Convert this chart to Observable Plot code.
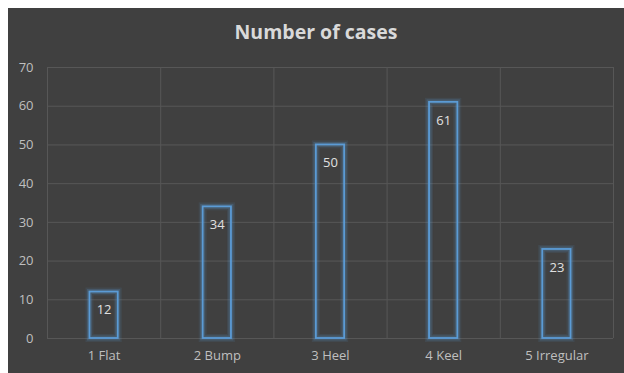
<!DOCTYPE html>
<html>
<head>
<meta charset="utf-8">
<script src="https://cdn.jsdelivr.net/npm/d3@7"></script>
<script src="https://cdn.jsdelivr.net/npm/@observablehq/plot@0.6"></script>
<style>
  html, body { margin: 0; padding: 0; background: #ffffff; }
  #chart {
    position: absolute; left: 8px; top: 8px;
    width: 616px; height: 365px;
    background: #404040;
    font-family: "Open Sans", sans-serif;
  }
  #title {
    height: 36px; padding-top: 6px; line-height: 36px;
    text-align: center; color: #d9d9d9;
    font-size: 19.5px; font-weight: 700;
  }
  #chart svg { display: block; }
</style>
</head>
<body>
<div id="chart"><div id="title">Number of cases</div></div>
<script>
const categories = ["1 Flat", "2 Bump", "3 Heel", "4 Keel", "5 Irregular"];
const cases = [12, 34, 50, 61, 23];
const yTicks = [0, 10, 20, 30, 40, 50, 60, 70];

const data = categories.map((c, i) => ({category: c, pos: i + 1, value: cases[i]}));
const boundaries = d3.range(0, categories.length + 1).map(i => i + 0.5);
const barHalf = 0.125;

const blue = "#5b9bd5";

const plot = Plot.plot({
  width: 616,
  height: 323,
  marginTop: 17,
  marginBottom: 35,
  marginLeft: 39,
  marginRight: 11,
  style: {background: "transparent", fontFamily: "Open Sans, sans-serif", fontSize: "13px", color: "#bfbfbf"},
  x: {domain: [0.5, categories.length + 0.5], label: null},
  y: {domain: [0, 70], label: null},
  marks: [
    Plot.ruleY(yTicks, {stroke: "#575757", strokeWidth: 1}),
    Plot.ruleX(boundaries, {stroke: "#575757", strokeWidth: 1}),
    // glow
    Plot.rectY(data, {x1: d => d.pos - barHalf, x2: d => d.pos + barHalf, y1: 0, y2: "value", fill: "none", stroke: blue, strokeWidth: 8, strokeOpacity: 0.1}),
    Plot.rectY(data, {x1: d => d.pos - barHalf, x2: d => d.pos + barHalf, y1: 0, y2: "value", fill: "none", stroke: blue, strokeWidth: 5, strokeOpacity: 0.22}),
    Plot.rectY(data, {x1: d => d.pos - barHalf, x2: d => d.pos + barHalf, y1: 0, y2: "value", fill: "none", stroke: "#5b9bd5", strokeWidth: 1.8}),
    Plot.text(data, {x: "pos", y: "value", text: d => String(d.value), dy: 18, fill: "#e0e0e0", fontSize: 13}),
    Plot.axisX({ticks: data.map(d => d.pos), tickFormat: d => categories[d - 1], tickSize: 0, tickPadding: 12, fill: "#bfbfbf", fontSize: 13, label: null}),
    Plot.axisY({ticks: yTicks, tickSize: 0, tickPadding: 14, fill: "#bfbfbf", fontSize: 13, label: null})
  ]
});
document.getElementById("chart").appendChild(plot);
</script>
</body>
</html>
